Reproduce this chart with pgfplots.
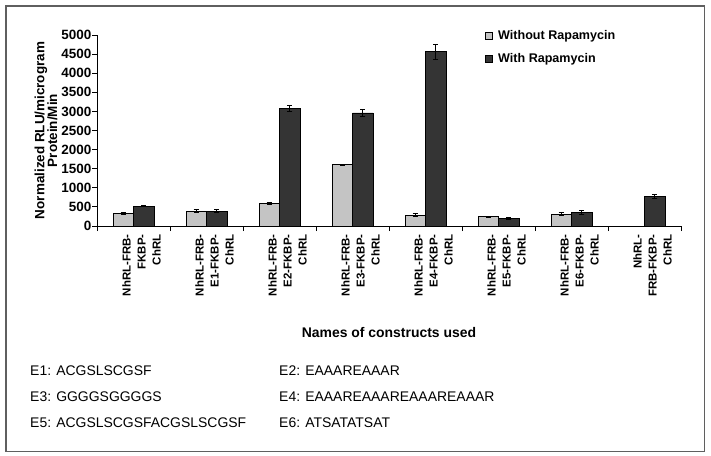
\documentclass[border=0pt]{standalone}
\usepackage{pgfplots}
\pgfplotsset{compat=1.18}
\usepackage{fontspec}
\setmainfont{Liberation Sans}
\definecolor{lightbar}{RGB}{196,196,196}
\definecolor{darkbar}{RGB}{52,52,52}
\definecolor{framegray}{RGB}{95,95,95}
\begin{document}
\begin{tikzpicture}
\useasboundingbox (0bp,0bp) rectangle (711bp,-456bp);
\draw[framegray, line width=1.2bp] (6bp,-6bp) rectangle (704.5bp,-451.5bp);
\begin{axis}[
  at={(97bp,-226bp)}, anchor=south west,
  scale only axis, width=584bp, height=191bp,
  xmin=-0.5, xmax=7.5, ymin=0, ymax=5000,
  enlargelimits=false,
  axis x line*=bottom, axis y line*=left,
  axis line style={black, line width=0.9bp, -},
  ybar=0pt, bar width=20.5bp,
  tick align=outside,
  major tick length=5bp, minor tick length=5bp,
  ytick={0,500,1000,1500,2000,2500,3000,3500,4000,4500,5000},
  yticklabels={0,500,1000,1500,2000,2500,3000,3500,4000,4500,5000},
  yticklabel style={font=\fontsize{13.5}{16}\selectfont\bfseries, inner sep=0.5bp},
  ytick style={black, line width=0.9bp},
  xtick={0,1,2,3,4,5,6,7},
  xticklabels={{NhRL-FRB-\\FKBP-\\ChRL},{NhRL-FRB-\\E1-FKBP-\\ChRL},{NhRL-FRB-\\E2-FKBP-\\ChRL},{NhRL-FRB-\\E3-FKBP-\\ChRL},{NhRL-FRB-\\E4-FKBP-\\ChRL},{NhRL-FRB-\\E5-FKBP-\\ChRL},{NhRL-FRB-\\E6-FKBP-\\ChRL},{NhRL-\\FRB-FKBP-\\ChRL}},
  major x tick style={draw=none},
  minor xtick={-0.5,0.5,1.5,2.5,3.5,4.5,5.5,6.5,7.5},
  minor x tick style={black, line width=0.9bp},
  xticklabel style={rotate=90, anchor=east, align=right, font=\fontsize{11.5}{15}\selectfont\bfseries, yshift=-8bp},
  xlabel={Names of constructs used},
  xlabel style={at={(axis description cs:0.5,-0.56)}, anchor=center, font=\fontsize{14}{16}\selectfont\bfseries},
  ylabel={Normalized RLU/microgram\\Protein/Min},
  ylabel style={at={(axis description cs:-0.0873,0.5)}, anchor=center, align=center, font=\fontsize{13.5}{13}\selectfont\bfseries},
  legend style={draw=none, fill=none, at={(0.664,1.034)}, anchor=north west, font=\fontsize{12.6}{15}\selectfont\bfseries, row sep=8bp, inner sep=0pt},
  legend cell align=left,
  legend image code/.code={\draw[#1, draw=black, line width=0.5bp] (0bp,-3.5bp) rectangle (7bp,3.5bp); \path[draw=none, fill=none] (0bp,0bp) (11bp,0bp);},
  error bars/error bar style={black, line width=0.9bp},
  error bars/error mark options={black, rotate=90, mark size=2.5bp, line width=0.9bp},
]
\addplot[fill=lightbar, draw=black, line width=0.8bp,
  error bars/.cd, y dir=both, y explicit]
  coordinates {(0,330) +- (0,25) (1,390) +- (0,45) (2,590) +- (0,15) (3,1600) +- (0,15) (4,280) +- (0,40) (5,240) +- (0,20) (6,310) +- (0,35)};
\addplot[fill=darkbar, draw=black, line width=0.8bp,
  error bars/.cd, y dir=both, y explicit]
  coordinates {(0,520) +- (0,15) (1,390) +- (0,35) (2,3080) +- (0,80) (3,2960) +- (0,100) (4,4560) +- (0,190) (5,200) +- (0,25) (6,350) +- (0,45) (7,765) +- (0,50)};
\legend{Without Rapamycin, With Rapamycin}
\end{axis}
\begin{scope}[every node/.style={anchor=base west, inner sep=0pt, font=\fontsize{14}{16}\selectfont}]
\node at (30bp,-375bp) {E1: ACGSLSCGSF};
\node at (30bp,-401bp) {E3: GGGGSGGGGS};
\node at (30bp,-427bp) {E5: ACGSLSCGSFACGSLSCGSF};
\node at (279bp,-375bp) {E2: EAAAREAAAR};
\node at (279bp,-401bp) {E4: EAAAREAAAREAAAREAAAR};
\node at (279bp,-427bp) {E6: ATSATATSAT};
\end{scope}
\end{tikzpicture}
\end{document}
